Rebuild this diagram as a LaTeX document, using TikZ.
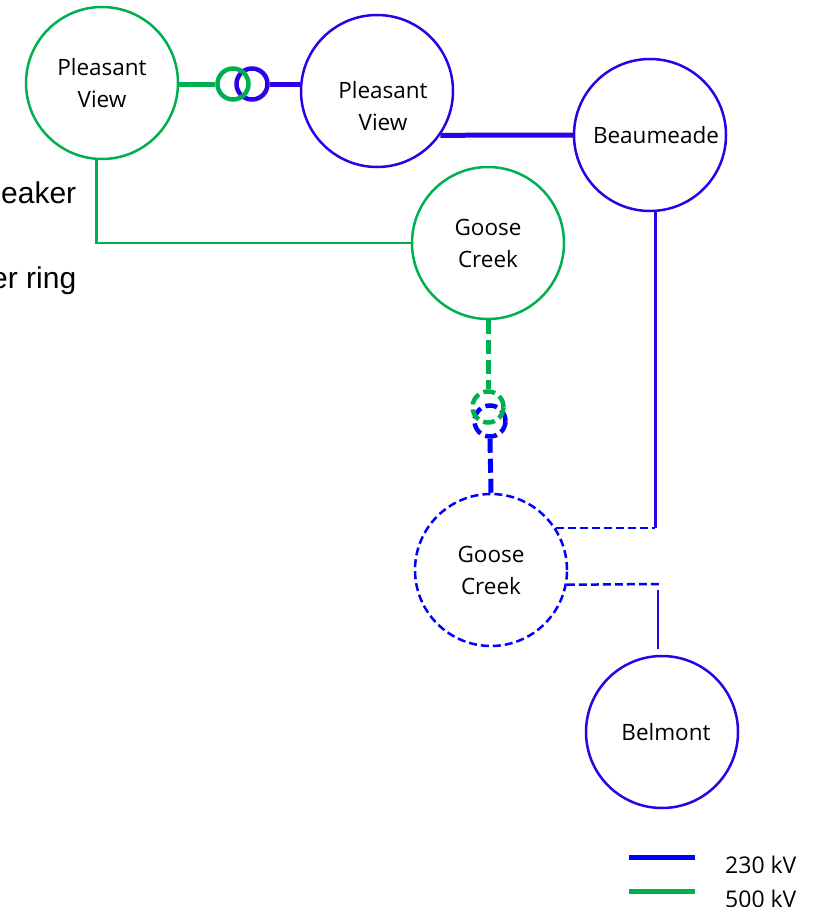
\documentclass[tikz,border=0pt]{standalone}
\usepackage{fontspec}
\usepackage{tikz}
\setmainfont{Liberation Sans}
\newfontfamily\segfont{Open Sans}
\definecolor{kvgreen}{RGB}{0,176,80}
\definecolor{kvblue}{RGB}{0,0,255}
\definecolor{ringblue}{RGB}{45,0,230}

\begin{document}
\begin{tikzpicture}[x=1pt,y=-1pt,
  sub/.style={circle,draw,line width=2.5pt,minimum size=152pt,inner sep=0pt,align=center,
    font=\segfont\fontsize{22.5}{32}\selectfont},
  subname/.style={inner sep=0pt,align=center,font=\segfont\fontsize{22.5}{32}\selectfont},
  xfmr/.style={circle,draw,line width=4.5pt,minimum size=31pt,inner sep=0pt},
  feeder/.style={line width=2.5pt},
  tie/.style={line width=5pt},
  dashring/.style={dash pattern=on 8pt off 4pt},
  dashtie/.style={dash pattern=on 14pt off 6pt},
  kvtext/.style={anchor=base west,inner sep=0pt,font=\segfont\fontsize{23}{30}\selectfont}]
\useasboundingbox (0,0) rectangle (813,907);

\node[anchor=base west,inner sep=0pt,font=\fontsize{30}{36}\selectfont] (brk) at (1,203) {eaker};
\node[anchor=base west,inner sep=0pt,font=\fontsize{30}{36}\selectfont] (rng) at (-9,288) {er ring};

\node[sub,kvgreen] (pvgreen) at (102,83) {\color{black}Pleasant\\\color{black}View};
\node[sub,ringblue] (pvblue) at (377,91) {};
\node[subname] (pvbluetext) at ([xshift=6pt,yshift=-15pt]pvblue.center) {Pleasant\\View};
\node[sub,ringblue] (beaumeade) at (650,135) {};
\node[subname] (beaumeadetext) at ([xshift=6pt]beaumeade.center) {Beaumeade};
\node[sub,kvgreen] (gcgreen) at (488,243) {\color{black}Goose\\\color{black}Creek};
\node[sub,kvblue,dashring] (gcblue) at (491,570) {\color{black}Goose\\\color{black}Creek};
\node[sub,ringblue] (belmont) at (662,732) {};
\node[subname] (belmonttext) at ([xshift=4pt]belmont.center) {Belmont};

\node[xfmr,ringblue] (xfblue) at (252,84) {};
\node[xfmr,kvgreen] (xfgreen) at (233,84) {};
\node[xfmr,kvblue,dash pattern=on 12pt off 5pt] (xfblueb) at (490,421) {};
\node[xfmr,kvgreen,dash pattern=on 12pt off 5pt] (xfgreenb) at (488,407) {};

\draw[tie,kvgreen] (pvgreen.east |- xfgreen.west) -- (xfgreen.west);
\draw[tie,ringblue] (xfblue.east) -- (pvblue.west |- xfblue.east);
\draw[tie,ringblue] (pvblue.-35) -- (beaumeade.west);
\draw[feeder,kvgreen] (pvgreen.266) |- (gcgreen.west);
\draw[tie,kvgreen,dashtie] (gcgreen.south) -- (xfgreenb.north);
\draw[tie,kvblue,dashtie] (xfblueb.south) -- (gcblue.north);

\coordinate (bmcorner) at (beaumeade.-86 |- gcblue.33);
\coordinate (blcorner) at (659,584);
\draw[feeder,ringblue] (beaumeade.-86) -- (bmcorner);
\draw[feeder,kvblue,dashring] (gcblue.33) -- (bmcorner);
\draw[feeder,kvblue,dashring] (gcblue.-11) -- (blcorner);
\draw[feeder,ringblue] (658,590) coordinate (bltop) -- ++(0,59) coordinate (blend);

\coordinate (k230a) at (629,857);
\coordinate (k230b) at (695,857);
\coordinate (k500a) at (629,891);
\coordinate (k500b) at (695,891);
\draw[tie,kvblue] (k230a) -- (k230b);
\draw[tie,kvgreen] (k500a) -- (k500b);
\node[kvtext] (t230) at (725,873) {230 kV};
\node[kvtext] (t500) at (725,907) {500 kV};
\end{tikzpicture}
\end{document}
